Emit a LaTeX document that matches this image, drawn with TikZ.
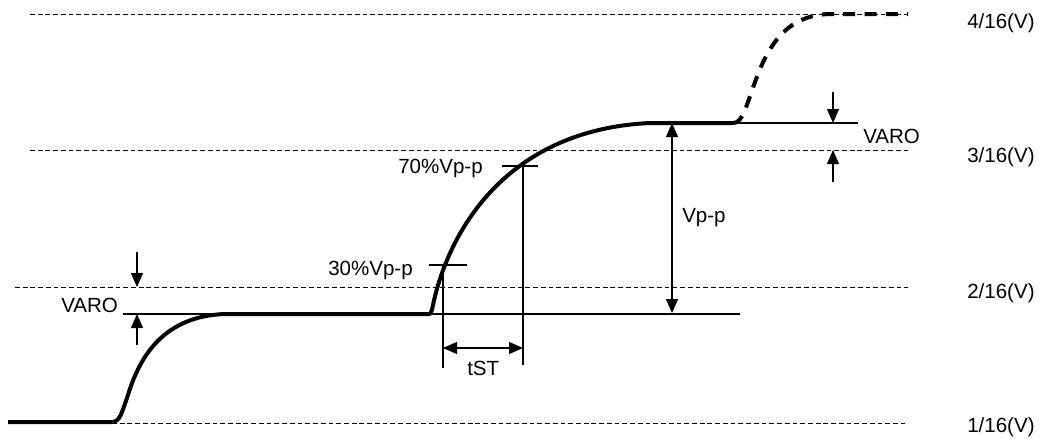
\documentclass[tikz,border=0pt]{standalone}
\usepackage{fontspec}
\setmainfont{Liberation Sans}
\usetikzlibrary{arrows.meta}
\begin{document}
\begin{tikzpicture}[x=0.75pt,y=-0.75pt,
  guide/.style={line width=0.7pt,dash pattern=on 3.6pt off 2.2pt},
  thin/.style={line width=0.9pt},
  signal/.style={line width=3pt,line join=round},
  future/.style={line width=3pt,dash pattern=on 9pt off 7pt},
  dim/.style={line width=0.9pt,-{Triangle[length=10.5pt,width=9pt]}},
  dimboth/.style={line width=0.9pt,{Triangle[length=10.5pt,width=9pt]}-{Triangle[length=10.5pt,width=9pt]}},
  lbl/.style={anchor=base west,inner sep=0pt,font=\fontsize{15.4}{18}\selectfont}]
\useasboundingbox (0,0) rectangle (1043,439);
% level guide lines
\draw[guide] (30,14) -- (908,14);
\draw[guide] (30,150) -- (908,150);
\draw[guide] (15,287) -- (908,287);
\draw[guide] (112,423) -- (905,423);
% level labels
\node[lbl] (l4) at (967,28) {4/16(V)};
\node[lbl] (l3) at (967,162) {3/16(V)};
\node[lbl] (l2) at (967,298) {2/16(V)};
\node[lbl] (l1) at (967,432) {1/16(V)};
% thin reference lines
\coordinate (b1) at (123,314);
\coordinate (b2) at (740,314);
\draw[thin] (b1) -- (b2);
\coordinate (t1) at (640,123);
\coordinate (t2) at (858,123);
\draw[thin] (t1) -- (t2);
% signal
\draw[signal] (8,422) -- (112,422) .. controls (120,422) and (122,412) .. (128,395)
  .. controls (140,355) and (165,316) .. (225,314) -- (430,314) -- (432,310)
  .. controls (445,240) and (500,130) .. (650,123) -- (733,123);
\draw[future] (733,123) .. controls (742,123) and (745,110) .. (755,82)
  .. controls (770,40) and (790,15) .. (830,14) -- (908,14);
% left VARO
\coordinate (va1) at (137,252);
\coordinate (va2) at (137,287);
\coordinate (va3) at (137,345);
\coordinate (va4) at (137,314);
\draw[dim] (va1) -- (va2);
\draw[dim] (va3) -- (va4);
\node[lbl] (varoL) at (61,312) {VARO};
% right VARO
\coordinate (vb1) at (833,92);
\coordinate (vb2) at (833,123);
\coordinate (vb3) at (833,182);
\coordinate (vb4) at (833,150);
\draw[dim] (vb1) -- (vb2);
\draw[dim] (vb3) -- (vb4);
\node[lbl] (varoR) at (863,143) {VARO};
% Vp-p
\coordinate (vp1) at (672,123);
\coordinate (vp2) at (672,313);
\draw[dimboth] (vp1) -- (vp2);
\node[lbl] (vpp) at (682,222) {Vp-p};
% 70% and 30% marks
\coordinate (s1) at (502,166);
\coordinate (s2) at (538,166);
\coordinate (s3) at (523,166);
\coordinate (s4) at (523,365);
\draw[thin] (s1) -- (s2);
\draw[thin] (s3) -- (s4);
\node[lbl] (p70) at (398,173) {70\%Vp-p};
\coordinate (r1) at (429,265);
\coordinate (r2) at (467,265);
\coordinate (r3) at (443,265);
\coordinate (r4) at (443,368);
\draw[thin] (r1) -- (r2);
\draw[thin] (r3) -- (r4);
\node[lbl] (p30) at (328,275) {30\%Vp-p};
% tST
\coordinate (ts1) at (443,348);
\coordinate (ts2) at (523,348);
\draw[dimboth] (ts1) -- (ts2);
\node[lbl] (tst) at (467,375) {tST};
\end{tikzpicture}
\end{document}
